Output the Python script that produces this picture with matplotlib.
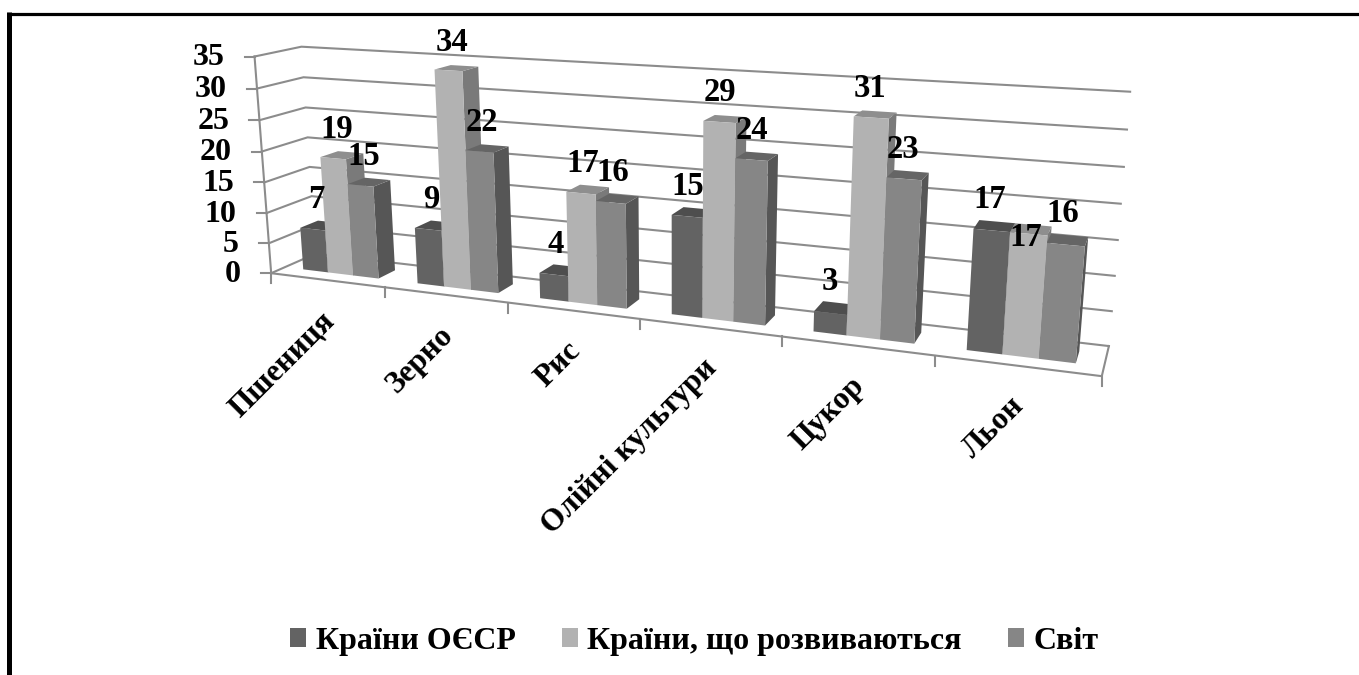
import numpy as np
import matplotlib
matplotlib.use('Agg')
import matplotlib.pyplot as plt
from matplotlib.patches import Polygon, Patch

plt.rcParams['font.family'] = ['Liberation Serif', 'DejaVu Serif']
plt.rcParams['font.weight'] = 'bold'

categories = ['Пшениця', 'Зерно', 'Рис', 'Олійні культури', 'Цукор', 'Льон']
series_names = ['Країни ОЄСР', 'Країни, що розвиваються', 'Світ']
oecd = [7, 9, 4, 15, 3, 17]
developing = [19, 34, 17, 29, 31, 17]
world = [15, 22, 16, 24, 23, 16]
y_ticks = [0, 5, 10, 15, 20, 25, 30, 35]

# front, top, side colours of each series
bar_colors = [('#636363', '#4e4e4e', '#4e4e4e'),
              ('#b2b2b2', '#8e8e8e', '#7a7a7a'),
              ('#868686', '#656565', '#565656')]
axis_color = '#8c8c8c'

# box corners (category, depth, value) -> where they sit on the picture
calib_box = [(0, 0, 0), (0, 0, 35), (0, 1, 0), (0, 1, 35), (6, 1, 0), (6, 1, 35), (6, 0, 0),
             (1, 0, 0), (2, 0, 0), (4, 0, 0), (5, 0, 0)]
calib_px = [(273, 272), (253, 57), (314, 255), (303, 46), (1109, 345), (1130, 92), (1102, 377),
            (385, 287), (508, 303), (782, 337), (935, 355)]


# projection matrix from the calibration points
def fit_camera(box, px):
    a = []
    b = []
    for (u, v, w), (x, y) in zip(box, px):
        a.append([u, v, w, 1, 0, 0, 0, 0, -x * u, -x * v, -x * w])
        b.append(x)
        a.append([0, 0, 0, 0, u, v, w, 1, -y * u, -y * v, -y * w])
        b.append(y)
    p = np.linalg.lstsq(np.array(a, float), np.array(b, float), rcond=None)[0]
    return np.append(p, 1.0).reshape(3, 4)


cam = fit_camera(calib_box, calib_px)


def proj(u, v, w):
    x, y, s = cam @ np.array([u, v, w, 1.0])
    return x / s, y / s


fig = plt.figure(figsize=(13.59, 6.75), dpi=100)
ax = fig.add_axes([0, 0, 1, 1])
ax.set_xlim(0, 1359)
ax.set_ylim(675, 0)
ax.axis('off')

# outer frame
ax.plot([9, 9], [12, 675], color='black', lw=3.6, solid_capstyle='butt')
ax.plot([6.5, 1359], [13.5, 13.5], color='black', lw=2.3, solid_capstyle='butt')


def line(pts, lw=1.5):
    xs, ys = zip(*pts)
    ax.plot(xs, ys, color=axis_color, lw=lw, zorder=1, solid_joinstyle='miter')


# walls, floor and ticks
for t in y_ticks:
    line([proj(0, 0, t), proj(0, 1, t), proj(6, 1, t)])
    x, y = proj(0, 0, t)
    line([(x - 10, y), (x, y)])
    ax.text(x - 30, y + 1, str(t), ha='right', va='center', fontsize=23, zorder=5)
line([proj(0, 0, 0), proj(0, 0, 35)])
line([proj(0, 0, 0), proj(6, 0, 0), proj(6, 1, 0)])
for i in range(7):
    x, y = proj(i, 0, 0)
    line([(x, y), (x, y + 10)])

gap = 1 / 6
bar_w = (1 - 2 * gap) / 3
v0, v1 = 0.3, 0.7
label_nudge = {(5, 1): (0, 34)}

for i, vals in enumerate(zip(oecd, developing, world)):
    for j, val in enumerate(vals):
        u0 = i + gap + j * bar_w
        u1 = u0 + bar_w
        front_c, top_c, side_c = bar_colors[j]
        side = [proj(u1, v0, 0), proj(u1, v1, 0), proj(u1, v1, val), proj(u1, v0, val)]
        top = [proj(u0, v0, val), proj(u1, v0, val), proj(u1, v1, val), proj(u0, v1, val)]
        front = [proj(u0, v0, 0), proj(u1, v0, 0), proj(u1, v0, val), proj(u0, v0, val)]
        z = 2 + j * 0.1
        ax.add_patch(Polygon(side, fc=side_c, ec='none', zorder=z))
        ax.add_patch(Polygon(top, fc=top_c, ec='none', zorder=z))
        ax.add_patch(Polygon(front, fc=front_c, ec='none', zorder=z))
        x, y = proj((u0 + u1) / 2, 0.5, val)
        dx, dy = label_nudge.get((i, j), (0, 0))
        ax.text(x - 5 + dx, y - 26 + dy, str(val), ha='center', va='center', fontsize=23.5, zorder=6)

# category labels
for i, name in enumerate(categories):
    x, y = proj(i + 0.5, 0, 0)
    ax.text(x - 7, y + 26, name, rotation=45, ha='right', va='top', rotation_mode='anchor', fontsize=22.5)

handles = [Patch(fc=c[0], ec='none') for c in bar_colors]
ax.legend(handles, series_names, loc='center', bbox_to_anchor=(0.511, 0.05), ncol=3, frameon=False,
          fontsize=23, handlelength=0.5, handleheight=0.5, handletextpad=0.3, columnspacing=1.45)

fig.savefig('out.png', dpi=100)
